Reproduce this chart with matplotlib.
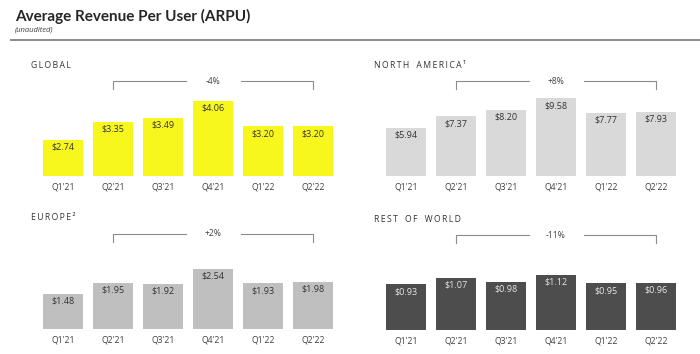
import matplotlib.pyplot as plt
from matplotlib.lines import Line2D
from matplotlib.transforms import blended_transform_factory

quarters = ["Q1'21", "Q2'21", "Q3'21", "Q4'21", "Q1'22", "Q2'22"]
global_arpu = [2.74, 3.35, 3.49, 4.06, 3.20, 3.20]
na_arpu = [5.94, 7.37, 8.20, 9.58, 7.77, 7.93]
europe_arpu = [1.48, 1.95, 1.92, 2.54, 1.93, 1.98]
row_arpu = [0.93, 1.07, 0.98, 1.12, 0.95, 0.96]
changes = ["-4%", "+8%", "+2%", "-11%"]
titles = ["GLOBAL", "NORTH AMERICA¹", "EUROPE²", "REST OF WORLD"]

W, H = 700, 354
fig = plt.figure(figsize=(7, 3.54), dpi=100)
fig.patch.set_facecolor("white")

def fx(x):
    return x / W

def fy(y):
    return 1 - y / H

# titulo e subtitulo
fig.text(fx(15), fy(16), "Average Revenue Per User (ARPU)", fontsize=11, fontweight="bold",
         family="Lato", color="#262626", va="center", ha="left")
fig.text(fx(15), fy(30), "(unaudited)", fontsize=5.5, style="italic", family="Open Sans",
         color="#404040", va="center", ha="left")
fig.add_artist(Line2D([fx(11), fx(700)], [fy(40), fy(40)], color="#8a8a8a", lw=1.4))

# (valores, cor da barra, cor do texto, x esquerdo, linha base, px por unidade, piso)
paineis = [
    (global_arpu, "#f7f71e", "#333333", 38, 176, 29.5, 1.52),
    (na_arpu, "#d9d9d9", "#333333", 381, 176, 8.1, 0.0),
    (europe_arpu, "#bfbfbf", "#333333", 38, 329, 23.6, 0.0),
    (row_arpu, "#4d4d4d", "#e8e8e8", 381, 330, 49.0, 0.0),
]

fam = ["Open Sans", "DejaVu Sans"]
for (valores, cor, cor_txt, x0, base, ppu, piso), var, titulo in zip(paineis, changes, titles):
    alt = 92
    ax = fig.add_axes([fx(x0), fy(base), 300 / W, alt / H])
    x = range(len(quarters))
    ax.bar(x, valores, width=0.8, color=cor)
    ax.set_xlim(-0.5, 5.5)
    ax.set_ylim(piso, piso + alt / ppu)
    for s in ax.spines.values():
        s.set_visible(False)
    ax.set_yticks([])
    ax.set_xticks(list(x))
    ax.set_xticklabels(quarters, fontsize=6.2, family="Open Sans", color="#404040")
    ax.tick_params(axis="x", length=0, pad=5)
    for i, v in enumerate(valores):
        ax.annotate("$%.2f" % v, (i, v), xytext=(0, -5.2), textcoords="offset points",
                    ha="center", va="center", fontsize=6.5, family="Open Sans", color=cor_txt)

    # titulo do painel com espacamento entre letras
    espacado = "\u2009".join(titulo.replace(" ", "\u2002"))
    fig.text(fx(x0 - 7), fy(base - 111), espacado, fontsize=6.2, family=fam,
             color="#333333", va="center", ha="left")

    # colchete de variacao
    tr = blended_transform_factory(ax.transData, fig.transFigure)
    yb = base - 95
    kw = dict(color="#8c8c8c", lw=0.8, transform=tr, clip_on=False)
    ax.plot([1, 1, 2.45], [fy(yb + 8), fy(yb), fy(yb)], **kw)
    ax.plot([3.55, 5, 5], [fy(yb), fy(yb), fy(yb + 8)], **kw)
    ax.text(3, fy(yb), var, transform=tr, ha="center", va="center", fontsize=6.2,
            family="Open Sans", color="#404040")

fig.savefig("out.png", dpi=100)
